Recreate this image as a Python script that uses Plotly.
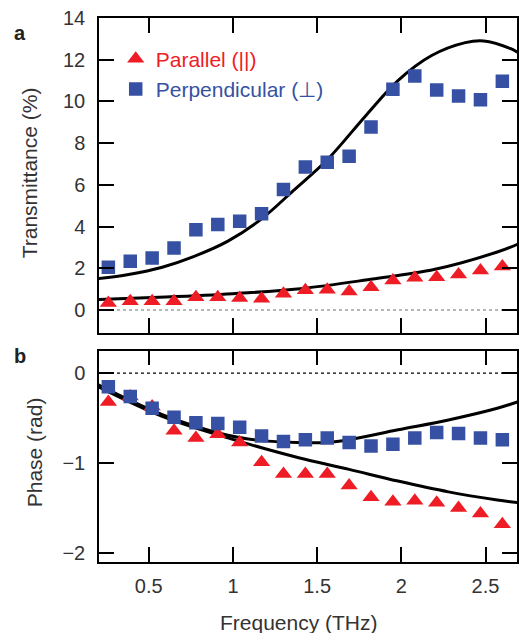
import plotly.graph_objects as go

# ---- data ----
freq = [0.26, 0.39, 0.52, 0.65, 0.78, 0.91, 1.04, 1.17, 1.30, 1.43,
        1.56, 1.69, 1.82, 1.95, 2.08, 2.21, 2.34, 2.47, 2.60]

trans_par = [0.33, 0.42, 0.42, 0.42, 0.61, 0.61, 0.58, 0.54, 0.78, 0.94,
             0.97, 0.89, 1.09, 1.41, 1.54, 1.57, 1.70, 1.89, 2.09]
trans_perp = [2.05, 2.34, 2.49, 2.97, 3.85, 4.10, 4.26, 4.61, 5.78, 6.85,
              7.08, 7.37, 8.77, 10.58, 11.22, 10.55, 10.26, 10.08, 10.97]

phase_par = [-0.32, -0.26, -0.37, -0.64, -0.72, -0.68, -0.77, -0.99, -1.12, -1.12,
             -1.12, -1.25, -1.38, -1.43, -1.42, -1.44, -1.50, -1.56, -1.68]
phase_perp = [-0.15, -0.26, -0.39, -0.49, -0.55, -0.56, -0.60, -0.70, -0.76, -0.74,
              -0.72, -0.77, -0.81, -0.79, -0.72, -0.66, -0.67, -0.72, -0.74]

# model curves
model_tperp_x = [0.2, 0.38, 0.58, 0.77, 0.97, 1.17, 1.36, 1.56, 1.79, 1.98, 2.18, 2.38, 2.49, 2.65, 2.69]
model_tperp_y = [1.50, 1.70, 2.05, 2.57, 3.30, 4.37, 5.73, 7.20, 9.33, 11.0, 12.2, 12.82, 12.9, 12.53, 12.36]
model_tpar_x = [0.2, 0.6, 1.0, 1.4, 1.8, 2.2, 2.57, 2.69]
model_tpar_y = [0.50, 0.62, 0.78, 1.02, 1.45, 1.95, 2.78, 3.15]

model_pperp_x = [0.2, 0.58, 0.97, 1.17, 1.39, 1.56, 1.69, 1.98, 2.28, 2.57, 2.69]
model_pperp_y = [-0.13, -0.46, -0.69, -0.75, -0.77, -0.77, -0.74, -0.63, -0.52, -0.39, -0.32]
model_ppar_x = [0.2, 0.58, 0.97, 1.17, 1.39, 1.69, 1.98, 2.28, 2.57, 2.69]
model_ppar_y = [-0.15, -0.48, -0.72, -0.83, -0.94, -1.07, -1.20, -1.32, -1.41, -1.44]

x_ticks = [0.5, 1, 1.5, 2, 2.5]
x_ticktext = ["0.5", "1", "1.5", "2", "2.5"]

RED = "#ee1c25"
BLUE = "#3651a3"
FONT = "Liberation Sans, Arial, sans-serif"

fig = go.Figure()

line_style = dict(color="black", width=3, shape="spline")
# top panel curves
fig.add_trace(go.Scatter(x=model_tperp_x, y=model_tperp_y, mode="lines", line=line_style,
                         showlegend=False, xaxis="x", yaxis="y"))
fig.add_trace(go.Scatter(x=model_tpar_x, y=model_tpar_y, mode="lines", line=line_style,
                         showlegend=False, xaxis="x", yaxis="y"))
# bottom panel curves
fig.add_trace(go.Scatter(x=model_pperp_x, y=model_pperp_y, mode="lines", line=line_style,
                         showlegend=False, xaxis="x2", yaxis="y2"))
fig.add_trace(go.Scatter(x=model_ppar_x, y=model_ppar_y, mode="lines", line=line_style,
                         showlegend=False, xaxis="x2", yaxis="y2"))

tri = dict(symbol="triangle-up", size=15, color=RED, line=dict(width=0))
sq = dict(symbol="square", size=13.5, color=BLUE, line=dict(width=0))

fig.add_trace(go.Scatter(x=freq, y=trans_par, mode="markers", marker=tri,
                         name=f"<span style='color:{RED}'>Parallel (||)</span>",
                         xaxis="x", yaxis="y"))
fig.add_trace(go.Scatter(x=freq, y=trans_perp, mode="markers", marker=sq,
                         name=f"<span style='color:{BLUE}'>Perpendicular (⊥)</span>",
                         xaxis="x", yaxis="y"))
fig.add_trace(go.Scatter(x=freq, y=phase_par, mode="markers", marker=tri,
                         showlegend=False, xaxis="x2", yaxis="y2"))
fig.add_trace(go.Scatter(x=freq, y=phase_perp, mode="markers", marker=sq,
                         showlegend=False, xaxis="x2", yaxis="y2"))

# zero reference lines
fig.add_shape(type="line", xref="x domain", x0=0, x1=1, yref="y", y0=0, y1=0,
              line=dict(color="#a0a0a0", width=1.5, dash="dot"), layer="below")
fig.add_shape(type="line", xref="x2 domain", x0=0, x1=1, yref="y2", y0=0, y1=0,
              line=dict(color="black", width=1.2, dash="3px,3px"), layer="below")

axis_common = dict(showline=True, linecolor="black", linewidth=1.5, mirror="ticks",
                   ticks="inside", ticklen=15, tickwidth=1.5, tickcolor="black",
                   showgrid=False, zeroline=False,
                   tickfont=dict(family=FONT, size=20, color="#333333"))

xr = [0.2044, 2.687]
fig.update_layout(
    width=520, height=633,
    margin=dict(l=99, r=1, t=18, b=71),
    paper_bgcolor="white", plot_bgcolor="white",
    font=dict(family=FONT, color="#333333"),
    xaxis=dict(axis_common, range=xr, domain=[0, 1], anchor="y",
               tickvals=x_ticks, ticktext=x_ticktext, showticklabels=False),
    yaxis=dict(axis_common, range=[-1.09, 14], domain=[0.4215, 1], anchor="x",
               tickvals=[0, 2, 4, 6, 8, 10, 12, 14], ticklabelstandoff=8),
    xaxis2=dict(axis_common, range=xr, domain=[0, 1], anchor="y2",
                tickvals=x_ticks, ticktext=x_ticktext, ticklabelstandoff=5),
    yaxis2=dict(axis_common, range=[-2.1, 0.25], domain=[0, 0.3884], anchor="x2",
                tickvals=[-2, -1, 0], ticklabelstandoff=8),
    legend=dict(x=0.04, y=0.962, xanchor="left", yanchor="top",
                bgcolor="rgba(0,0,0,0)", font=dict(family=FONT, size=21),
                itemsizing="trace", tracegroupgap=0),
    showlegend=True,
)

ann_font = dict(family=FONT, size=21, color="#333333")
fig.add_annotation(text="Transmittance (%)", xref="paper", yref="paper",
                   x=(29 - 99) / 420, y=(562 - 173) / 544, textangle=-90,
                   showarrow=False, font=ann_font, xanchor="center", yanchor="middle")
fig.add_annotation(text="Phase (rad)", xref="paper", yref="paper",
                   x=(34 - 99) / 420, y=(562 - 452) / 544, textangle=-90,
                   showarrow=False, font=ann_font, xanchor="center", yanchor="middle")
fig.add_annotation(text="Frequency (THz)", xref="paper", yref="paper",
                   x=(300 - 99) / 420, y=(562 - 622) / 544,
                   showarrow=False, font=ann_font, xanchor="center", yanchor="middle")
fig.add_annotation(text="<b>a</b>", xref="paper", yref="paper",
                   x=(20 - 99) / 420, y=(562 - 33) / 544, showarrow=False,
                   font=dict(family=FONT, size=20, color="#222222"),
                   xanchor="center", yanchor="middle")
fig.add_annotation(text="<b>b</b>", xref="paper", yref="paper",
                   x=(20 - 99) / 420, y=(562 - 356) / 544, showarrow=False,
                   font=dict(family=FONT, size=20, color="#222222"),
                   xanchor="center", yanchor="middle")

fig.write_html("out.html")
